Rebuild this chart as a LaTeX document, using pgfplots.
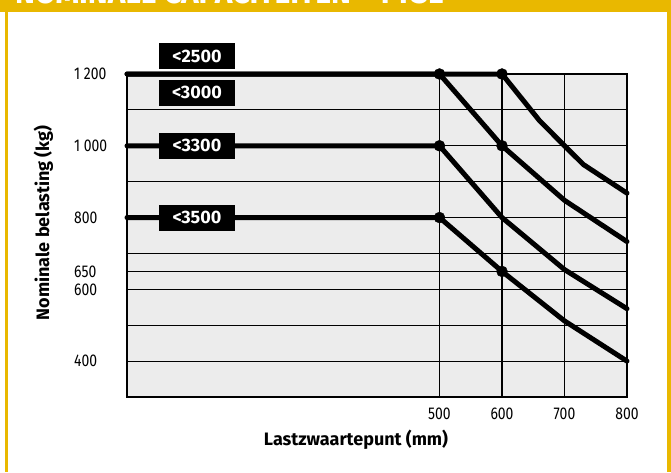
\documentclass[border=0pt]{standalone}
\usepackage{fontspec}
\setmainfont{Fira Sans}
\newfontfamily\tickf{Fira Sans}[FakeStretch=0.82]
\usepackage{pgfplots}
\pgfplotsset{compat=1.18}
\definecolor{cat}{RGB}{233,184,0}
\definecolor{bg}{RGB}{236,236,236}
\begin{document}
\begin{tikzpicture}[x=1pt,y=1pt]
\useasboundingbox (0,0) rectangle (671,472);
\fill[white] (0,0) rectangle (671,472);
\fill[cat] (0,460) rectangle (671,472);
\fill[cat] (5,0) rectangle (8,460);
\fill[cat] (667,0) rectangle (671,460);
\node[anchor=base west, inner sep=0pt, text=white, font=\bfseries\fontsize{30}{33}\selectfont] at (15,468) {NOMINALE CAPACITEITEN – FTSE};
\begin{axis}[
  at={(127pt,75pt)}, anchor=south west,
  scale only axis, width=500pt, height=323pt,
  xmin=0, xmax=800, ymin=300, ymax=1200,
  axis background/.style={fill=bg},
  axis line style={line width=1.5pt},
  xtick={500,600,700,800},
  xticklabels={500,600,700,800},
  ytick={400,500,600,650,700,800,900,1000,1100,1200},
  yticklabels={400,,600,650,,800,,1 000,,1 200},
  major tick length=0pt,
  tick style={draw=none},
  grid=major, grid style={black, line width=1.2pt},
  tick label style={font=\tickf\fontsize{17}{19}\selectfont},
  xticklabel style={anchor=north, inner sep=0pt, yshift=-11pt},
  yticklabel style={anchor=west, inner sep=0pt, xshift=-53pt},
  xlabel={Lastzwaartepunt (mm)},
  xlabel style={at={(rel axis cs:0.458,0)}, anchor=center, yshift=-43pt, font=\bfseries\fontsize{18}{20}\selectfont},
  ylabel={Nominale belasting (kg)},
  ylabel style={at={(rel axis cs:0,0.539)}, anchor=center, yshift=83.5pt, font=\bfseries\fontsize{18}{20}\selectfont},
  clip=false,
]
\addplot[line width=5pt, line cap=round, line join=round] coordinates {(0,1200)(600,1200)(660,1070)(700,1000)(730,948)(800,868)};
\addplot[line width=5pt, line cap=round, line join=round] coordinates {(0,1200)(500,1200)(600,1000)(700,848)(800,733)};
\addplot[line width=5pt, line cap=round, line join=round] coordinates {(0,1000)(500,1000)(600,800)(700,655)(800,546)};
\addplot[line width=5pt, line cap=round, line join=round] coordinates {(0,800)(500,800)(600,650)(700,512)(800,400)};
\addplot[only marks, mark=*, mark size=5.5pt, black] coordinates {(500,1200)(600,1200)(500,1000)(600,1000)(500,800)(600,650)};
\tikzset{lab/.style={fill=black, text=white, font=\bfseries\fontsize{18}{20}\selectfont, minimum width=76pt, minimum height=26pt, inner sep=0pt}}
\node[lab] at (axis cs:112,1249) {<2500};
\node[lab] at (axis cs:112,1148) {<3000};
\node[lab] at (axis cs:112,1000) {<3300};
\node[lab] at (axis cs:112,800) {<3500};
\end{axis}
\end{tikzpicture}
\end{document}
